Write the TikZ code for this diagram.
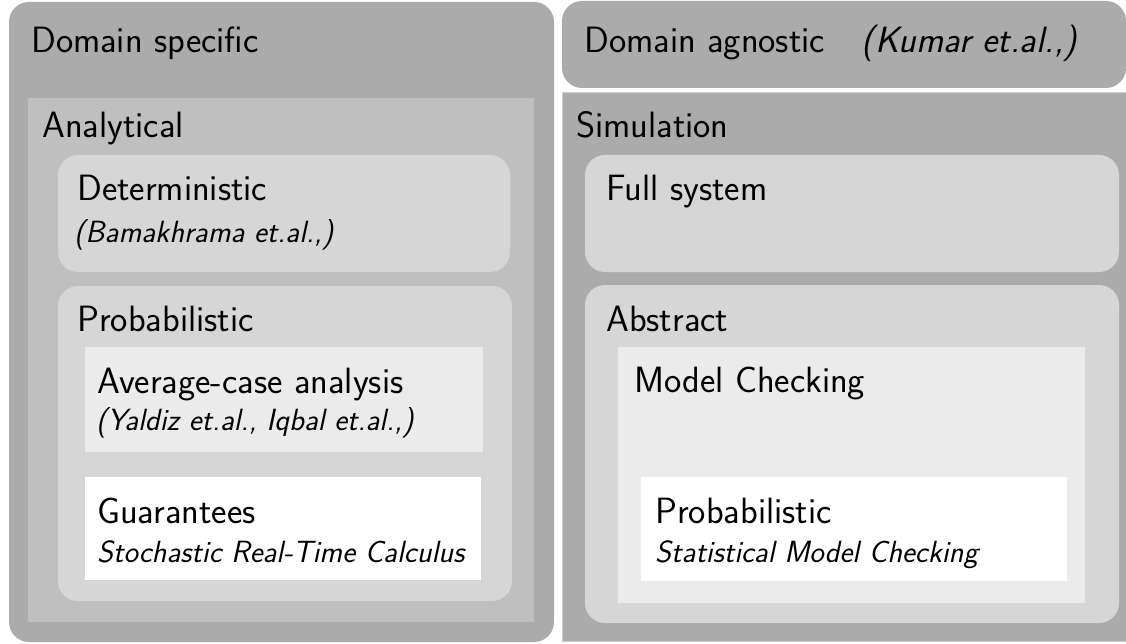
\documentclass[tikz,border=0pt]{standalone}
\usepackage{fontspec}
\begin{document}
\begin{tikzpicture}[x=1pt,y=-1pt,
  lvlA/.style={fill=black!33},
  lvlB/.style={fill=black!25},
  lvlC/.style={fill=black!16},
  lvlD/.style={fill=black!8},
  lvlE/.style={fill=white},
  rnd/.style={rounded corners=20pt},
  mainlbl/.style={anchor=base west,inner sep=0pt,font=\sffamily\fontsize{36.6}{42}\selectfont},
  sublbl/.style={anchor=base west,inner sep=0pt,font=\sffamily\itshape\fontsize{30.7}{36}\selectfont}]
\useasboundingbox[fill=white] (0,0) rectangle (1126,644);
% left column
\path[lvlA,rnd] (9,2) rectangle (554,642);
\path[lvlB] (28,98) rectangle (534,622);
\path[lvlC,rnd] (58,155) rectangle (510,272);
\path[lvlC,rnd] (58,286) rectangle (512,601);
\path[lvlD] (85,347) rectangle (483,452);
\path[lvlE] (85,477) rectangle (481,580);
% right column
\path[lvlA,rnd] (562,1) rectangle (1126,88);
\path[lvlA,draw=black!20,line width=0.8pt] (562.4,92) rectangle (1126,641);
\path[lvlC,rnd] (585,155) rectangle (1119,272);
\path[lvlC,rnd] (585,285) rectangle (1119,623);
\path[lvlD] (618,347) rectangle (1085,603);
\path[lvlE] (641,477) rectangle (1067,581);
% labels
\node[mainlbl] (ds) at (31,53) {Domain specific};
\node[mainlbl] (da) at (584,53) {Domain agnostic\quad\textit{(Kumar et.al.,)}};
\node[mainlbl] (an) at (42,138) {Analytical};
\node[mainlbl] (si) at (576,138) {Simulation};
\node[mainlbl] (de) at (77,201) {Deterministic};
\node[sublbl] (deref) at (74,243) {(Bamakhrama et.al.,)};
\node[mainlbl] (pr) at (77,331) {Probabilistic};
\node[mainlbl] (av) at (97,393) {Average-case analysis};
\node[sublbl] (avref) at (96,430) {(Yaldiz et.al., Iqbal et.al.,)};
\node[mainlbl] (gu) at (97,523) {Guarantees};
\node[sublbl] (guref) at (97,562) {Stochastic Real-Time Calculus};
\node[mainlbl] (fs) at (606,201) {Full system};
\node[mainlbl] (ab) at (606,331) {Abstract};
\node[mainlbl] (mc) at (634,392) {Model Checking};
\node[mainlbl] (pp) at (655,523) {Probabilistic};
\node[sublbl] (ppref) at (655,562) {Statistical Model Checking};
\end{tikzpicture}
\end{document}
